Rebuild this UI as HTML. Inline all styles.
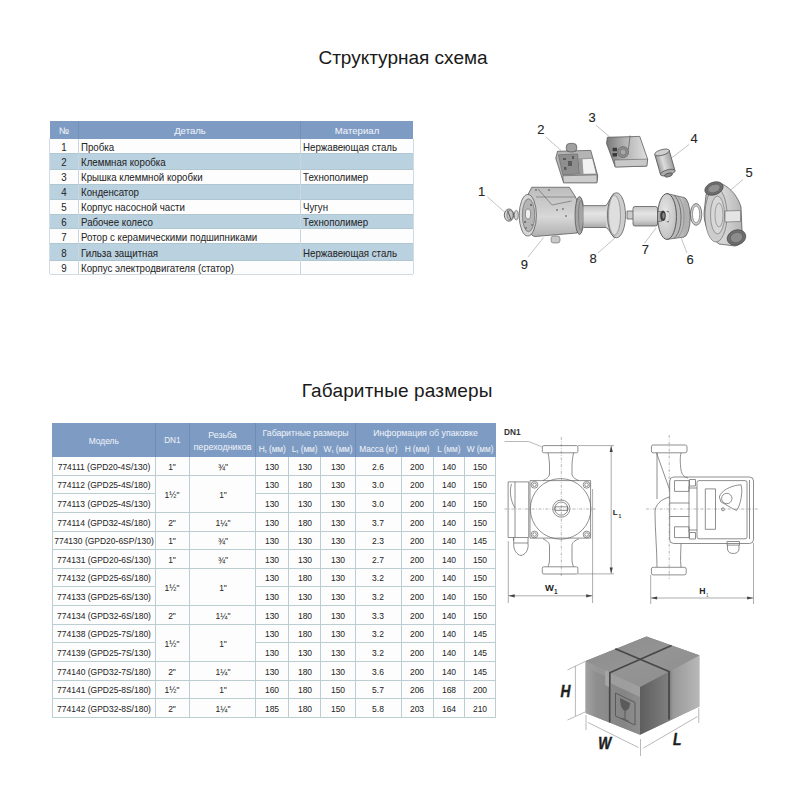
<!DOCTYPE html>
<html><head><meta charset="utf-8">
<style>
html,body{margin:0;padding:0;background:#fff;}
body{width:800px;height:800px;position:relative;overflow:hidden;font-family:"Liberation Sans",sans-serif;}
body div{-webkit-text-stroke:0.04px currentColor;}
sub{font-size:4px;vertical-align:baseline;position:relative;top:1px;}
svg{position:absolute;left:0;top:0;}
</style></head><body>
<div style="position:absolute;left:203.00px;top:47.90px;width:400px;text-align:center;font-size:19px;line-height:19px;color:#1a1a1a;letter-spacing:0px;white-space:nowrap;">Структурная схема</div>
<div style="position:absolute;left:197.20px;top:380.60px;width:400px;text-align:center;font-size:19px;line-height:19px;color:#1a1a1a;letter-spacing:0.15px;white-space:nowrap;">Габаритные размеры</div>
<div style="position:absolute;left:49.5px;top:121px;width:363.5px;height:17.5px;background:#7d9bc3"></div>
<div style="position:absolute;left:49.5px;top:138.5px;width:363.5px;height:15.300000000000011px;background:#fdfdfd"></div>
<div style="position:absolute;left:49.5px;top:153.8px;width:363.5px;height:15.799999999999983px;background:#bad1e0"></div>
<div style="position:absolute;left:49.5px;top:169.6px;width:363.5px;height:14.400000000000006px;background:#fdfdfd"></div>
<div style="position:absolute;left:49.5px;top:184px;width:363.5px;height:15.800000000000011px;background:#bad1e0"></div>
<div style="position:absolute;left:49.5px;top:199.8px;width:363.5px;height:14.299999999999983px;background:#fdfdfd"></div>
<div style="position:absolute;left:49.5px;top:214.1px;width:363.5px;height:14.700000000000017px;background:#bad1e0"></div>
<div style="position:absolute;left:49.5px;top:228.8px;width:363.5px;height:14.549999999999983px;background:#fdfdfd"></div>
<div style="position:absolute;left:49.5px;top:243.35px;width:363.5px;height:17.049999999999983px;background:#bad1e0"></div>
<div style="position:absolute;left:49.5px;top:260.4px;width:363.5px;height:13.800000000000011px;background:#fdfdfd"></div>
<div style="position:absolute;left:-136.25px;top:141.86px;width:400px;text-align:center;font-size:10.5px;line-height:10.5px;color:#262626;letter-spacing:0px;white-space:nowrap;transform:scaleX(0.9240);transform-origin:50% 0;">1</div>
<div style="position:absolute;left:81.40px;top:141.86px;font-size:10.5px;line-height:10.5px;color:#262626;letter-spacing:0px;white-space:nowrap;transform:scaleX(0.9240);transform-origin:0 0;">Пробка</div>
<div style="position:absolute;left:302.70px;top:141.86px;font-size:10.5px;line-height:10.5px;color:#262626;letter-spacing:0px;white-space:nowrap;transform:scaleX(0.9240);transform-origin:0 0;">Нержавеющая сталь</div>
<div style="position:absolute;left:-136.25px;top:157.11px;width:400px;text-align:center;font-size:10.5px;line-height:10.5px;color:#262626;letter-spacing:0px;white-space:nowrap;transform:scaleX(0.9240);transform-origin:50% 0;">2</div>
<div style="position:absolute;left:81.40px;top:157.11px;font-size:10.5px;line-height:10.5px;color:#262626;letter-spacing:0px;white-space:nowrap;transform:scaleX(0.9240);transform-origin:0 0;">Клеммная коробка</div>
<div style="position:absolute;left:-136.25px;top:172.01px;width:400px;text-align:center;font-size:10.5px;line-height:10.5px;color:#262626;letter-spacing:0px;white-space:nowrap;transform:scaleX(0.9240);transform-origin:50% 0;">3</div>
<div style="position:absolute;left:81.40px;top:172.01px;font-size:10.5px;line-height:10.5px;color:#262626;letter-spacing:0px;white-space:nowrap;transform:scaleX(0.9240);transform-origin:0 0;">Крышка клеммной коробки</div>
<div style="position:absolute;left:302.70px;top:172.01px;font-size:10.5px;line-height:10.5px;color:#262626;letter-spacing:0px;white-space:nowrap;transform:scaleX(0.9240);transform-origin:0 0;">Технополимер</div>
<div style="position:absolute;left:-136.25px;top:187.36px;width:400px;text-align:center;font-size:10.5px;line-height:10.5px;color:#262626;letter-spacing:0px;white-space:nowrap;transform:scaleX(0.9240);transform-origin:50% 0;">4</div>
<div style="position:absolute;left:81.40px;top:187.36px;font-size:10.5px;line-height:10.5px;color:#262626;letter-spacing:0px;white-space:nowrap;transform:scaleX(0.9240);transform-origin:0 0;">Конденсатор</div>
<div style="position:absolute;left:-136.25px;top:202.11px;width:400px;text-align:center;font-size:10.5px;line-height:10.5px;color:#262626;letter-spacing:0px;white-space:nowrap;transform:scaleX(0.9240);transform-origin:50% 0;">5</div>
<div style="position:absolute;left:81.40px;top:202.11px;font-size:10.5px;line-height:10.5px;color:#262626;letter-spacing:0px;white-space:nowrap;transform:scaleX(0.9240);transform-origin:0 0;">Корпус насосной части</div>
<div style="position:absolute;left:302.70px;top:202.11px;font-size:10.5px;line-height:10.5px;color:#262626;letter-spacing:0px;white-space:nowrap;transform:scaleX(0.9240);transform-origin:0 0;">Чугун</div>
<div style="position:absolute;left:-136.25px;top:217.46px;width:400px;text-align:center;font-size:10.5px;line-height:10.5px;color:#262626;letter-spacing:0px;white-space:nowrap;transform:scaleX(0.9240);transform-origin:50% 0;">6</div>
<div style="position:absolute;left:81.40px;top:217.46px;font-size:10.5px;line-height:10.5px;color:#262626;letter-spacing:0px;white-space:nowrap;transform:scaleX(0.9240);transform-origin:0 0;">Рабочее колесо</div>
<div style="position:absolute;left:302.70px;top:217.46px;font-size:10.5px;line-height:10.5px;color:#262626;letter-spacing:0px;white-space:nowrap;transform:scaleX(0.9240);transform-origin:0 0;">Технополимер</div>
<div style="position:absolute;left:-136.25px;top:231.51px;width:400px;text-align:center;font-size:10.5px;line-height:10.5px;color:#262626;letter-spacing:0px;white-space:nowrap;transform:scaleX(0.9240);transform-origin:50% 0;">7</div>
<div style="position:absolute;left:81.40px;top:231.51px;font-size:10.5px;line-height:10.5px;color:#262626;letter-spacing:0px;white-space:nowrap;transform:scaleX(0.9240);transform-origin:0 0;">Ротор с керамическими подшипниками</div>
<div style="position:absolute;left:-136.25px;top:247.71px;width:400px;text-align:center;font-size:10.5px;line-height:10.5px;color:#262626;letter-spacing:0px;white-space:nowrap;transform:scaleX(0.9240);transform-origin:50% 0;">8</div>
<div style="position:absolute;left:81.40px;top:247.71px;font-size:10.5px;line-height:10.5px;color:#262626;letter-spacing:0px;white-space:nowrap;transform:scaleX(0.9240);transform-origin:0 0;">Гильза защитная</div>
<div style="position:absolute;left:302.70px;top:247.71px;font-size:10.5px;line-height:10.5px;color:#262626;letter-spacing:0px;white-space:nowrap;transform:scaleX(0.9240);transform-origin:0 0;">Нержавеющая сталь</div>
<div style="position:absolute;left:-136.25px;top:263.11px;width:400px;text-align:center;font-size:10.5px;line-height:10.5px;color:#262626;letter-spacing:0px;white-space:nowrap;transform:scaleX(0.9240);transform-origin:50% 0;">9</div>
<div style="position:absolute;left:81.40px;top:263.11px;font-size:10.5px;line-height:10.5px;color:#262626;letter-spacing:0px;white-space:nowrap;transform:scaleX(0.9240);transform-origin:0 0;">Корпус электродвигателя (статор)</div>
<div style="position:absolute;left:49.5px;top:153.3px;width:363.5px;height:1px;background:#b0c6d0"></div>
<div style="position:absolute;left:49.5px;top:169.1px;width:363.5px;height:1px;background:#b0c6d0"></div>
<div style="position:absolute;left:49.5px;top:183.5px;width:363.5px;height:1px;background:#b0c6d0"></div>
<div style="position:absolute;left:49.5px;top:199.3px;width:363.5px;height:1px;background:#b0c6d0"></div>
<div style="position:absolute;left:49.5px;top:213.6px;width:363.5px;height:1px;background:#b0c6d0"></div>
<div style="position:absolute;left:49.5px;top:228.3px;width:363.5px;height:1px;background:#b0c6d0"></div>
<div style="position:absolute;left:49.5px;top:242.85px;width:363.5px;height:1px;background:#b0c6d0"></div>
<div style="position:absolute;left:49.5px;top:259.9px;width:363.5px;height:1px;background:#b0c6d0"></div>
<div style="position:absolute;left:77.5px;top:138.5px;width:1px;height:135.89999999999998px;background:#c9d6e0"></div>
<div style="position:absolute;left:300.1px;top:138.5px;width:1px;height:135.89999999999998px;background:#c9d6e0"></div>
<div style="position:absolute;left:49.0px;top:138.5px;width:1px;height:135.89999999999998px;background:#d0dbe4"></div>
<div style="position:absolute;left:412.5px;top:138.5px;width:1px;height:135.89999999999998px;background:#d0dbe4"></div>
<div style="position:absolute;left:49.5px;top:274px;width:363.5px;height:1px;background:#d0dbe4"></div>
<div style="position:absolute;left:77.5px;top:121px;width:1px;height:17.5px;background:#7390b8"></div>
<div style="position:absolute;left:300.1px;top:121px;width:1px;height:17.5px;background:#7390b8"></div>
<div style="position:absolute;left:-136.00px;top:125.90px;width:400px;text-align:center;font-size:9.6px;line-height:9.6px;color:#f2f5fa;letter-spacing:0px;white-space:nowrap;">№</div>
<div style="position:absolute;left:-10.00px;top:125.90px;width:400px;text-align:center;font-size:9.6px;line-height:9.6px;color:#f2f5fa;letter-spacing:0px;white-space:nowrap;">Деталь</div>
<div style="position:absolute;left:157.00px;top:125.90px;width:400px;text-align:center;font-size:9.6px;line-height:9.6px;color:#f2f5fa;letter-spacing:0px;white-space:nowrap;">Материал</div>
<div style="position:absolute;left:52px;top:423.25px;width:443.5px;height:33.25px;background:#7d9bc3"></div>
<div style="position:absolute;left:52px;top:456.5px;width:443.5px;height:260.96000000000004px;background:#fdfdfd"></div>
<div style="position:absolute;left:52px;top:474.64px;width:443.5px;height:1px;background:#bccdd3"></div>
<div style="position:absolute;left:52px;top:493.28px;width:103.5px;height:1px;background:#bccdd3"></div>
<div style="position:absolute;left:255.75px;top:493.28px;width:239.75px;height:1px;background:#bccdd3"></div>
<div style="position:absolute;left:52px;top:511.91999999999996px;width:443.5px;height:1px;background:#bccdd3"></div>
<div style="position:absolute;left:52px;top:530.56px;width:443.5px;height:1px;background:#bccdd3"></div>
<div style="position:absolute;left:52px;top:549.2px;width:443.5px;height:1px;background:#bccdd3"></div>
<div style="position:absolute;left:52px;top:567.84px;width:443.5px;height:1px;background:#bccdd3"></div>
<div style="position:absolute;left:52px;top:586.48px;width:103.5px;height:1px;background:#bccdd3"></div>
<div style="position:absolute;left:255.75px;top:586.48px;width:239.75px;height:1px;background:#bccdd3"></div>
<div style="position:absolute;left:52px;top:605.12px;width:443.5px;height:1px;background:#bccdd3"></div>
<div style="position:absolute;left:52px;top:623.76px;width:443.5px;height:1px;background:#bccdd3"></div>
<div style="position:absolute;left:52px;top:642.4px;width:103.5px;height:1px;background:#bccdd3"></div>
<div style="position:absolute;left:255.75px;top:642.4px;width:239.75px;height:1px;background:#bccdd3"></div>
<div style="position:absolute;left:52px;top:661.04px;width:443.5px;height:1px;background:#bccdd3"></div>
<div style="position:absolute;left:52px;top:679.6800000000001px;width:443.5px;height:1px;background:#bccdd3"></div>
<div style="position:absolute;left:52px;top:698.3199999999999px;width:443.5px;height:1px;background:#bccdd3"></div>
<div style="position:absolute;left:52px;top:716.96px;width:443.5px;height:1px;background:#bccdd3"></div>
<div style="position:absolute;left:51.5px;top:456.5px;width:1px;height:260.96000000000004px;background:#bccdd3"></div>
<div style="position:absolute;left:155.0px;top:456.5px;width:1px;height:260.96000000000004px;background:#bccdd3"></div>
<div style="position:absolute;left:188.75px;top:456.5px;width:1px;height:260.96000000000004px;background:#bccdd3"></div>
<div style="position:absolute;left:255.25px;top:456.5px;width:1px;height:260.96000000000004px;background:#bccdd3"></div>
<div style="position:absolute;left:288.2px;top:456.5px;width:1px;height:260.96000000000004px;background:#bccdd3"></div>
<div style="position:absolute;left:320.0px;top:456.5px;width:1px;height:260.96000000000004px;background:#bccdd3"></div>
<div style="position:absolute;left:355.0px;top:456.5px;width:1px;height:260.96000000000004px;background:#bccdd3"></div>
<div style="position:absolute;left:400.75px;top:456.5px;width:1px;height:260.96000000000004px;background:#bccdd3"></div>
<div style="position:absolute;left:432.5px;top:456.5px;width:1px;height:260.96000000000004px;background:#bccdd3"></div>
<div style="position:absolute;left:464.0px;top:456.5px;width:1px;height:260.96000000000004px;background:#bccdd3"></div>
<div style="position:absolute;left:495.0px;top:456.5px;width:1px;height:260.96000000000004px;background:#bccdd3"></div>
<div style="position:absolute;left:155.0px;top:423.25px;width:1px;height:33.25px;background:#6f8cb4"></div>
<div style="position:absolute;left:188.75px;top:423.25px;width:1px;height:33.25px;background:#6f8cb4"></div>
<div style="position:absolute;left:255.25px;top:423.25px;width:1px;height:33.25px;background:#6f8cb4"></div>
<div style="position:absolute;left:355.0px;top:423.25px;width:1px;height:33.25px;background:#6f8cb4"></div>
<div style="position:absolute;left:-95.75px;top:462.61px;width:400px;text-align:center;font-size:9.2px;line-height:9.2px;color:#262626;letter-spacing:0px;white-space:nowrap;transform:scaleX(0.9240);transform-origin:50% 0;">774111 (GPD20-4S/130)</div>
<div style="position:absolute;left:-27.62px;top:462.61px;width:400px;text-align:center;font-size:9.2px;line-height:9.2px;color:#262626;letter-spacing:0px;white-space:nowrap;transform:scaleX(0.9240);transform-origin:50% 0;">1"</div>
<div style="position:absolute;left:22.50px;top:462.61px;width:400px;text-align:center;font-size:9.2px;line-height:9.2px;color:#262626;letter-spacing:0px;white-space:nowrap;transform:scaleX(0.9240);transform-origin:50% 0;">¾"</div>
<div style="position:absolute;left:72.23px;top:462.61px;width:400px;text-align:center;font-size:9.2px;line-height:9.2px;color:#262626;letter-spacing:0px;white-space:nowrap;transform:scaleX(0.9240);transform-origin:50% 0;">130</div>
<div style="position:absolute;left:104.60px;top:462.61px;width:400px;text-align:center;font-size:9.2px;line-height:9.2px;color:#262626;letter-spacing:0px;white-space:nowrap;transform:scaleX(0.9240);transform-origin:50% 0;">130</div>
<div style="position:absolute;left:138.00px;top:462.61px;width:400px;text-align:center;font-size:9.2px;line-height:9.2px;color:#262626;letter-spacing:0px;white-space:nowrap;transform:scaleX(0.9240);transform-origin:50% 0;">130</div>
<div style="position:absolute;left:178.38px;top:462.61px;width:400px;text-align:center;font-size:9.2px;line-height:9.2px;color:#262626;letter-spacing:0px;white-space:nowrap;transform:scaleX(0.9240);transform-origin:50% 0;">2.6</div>
<div style="position:absolute;left:217.12px;top:462.61px;width:400px;text-align:center;font-size:9.2px;line-height:9.2px;color:#262626;letter-spacing:0px;white-space:nowrap;transform:scaleX(0.9240);transform-origin:50% 0;">200</div>
<div style="position:absolute;left:248.75px;top:462.61px;width:400px;text-align:center;font-size:9.2px;line-height:9.2px;color:#262626;letter-spacing:0px;white-space:nowrap;transform:scaleX(0.9240);transform-origin:50% 0;">140</div>
<div style="position:absolute;left:280.00px;top:462.61px;width:400px;text-align:center;font-size:9.2px;line-height:9.2px;color:#262626;letter-spacing:0px;white-space:nowrap;transform:scaleX(0.9240);transform-origin:50% 0;">150</div>
<div style="position:absolute;left:-95.75px;top:481.25px;width:400px;text-align:center;font-size:9.2px;line-height:9.2px;color:#262626;letter-spacing:0px;white-space:nowrap;transform:scaleX(0.9240);transform-origin:50% 0;">774112 (GPD25-4S/180)</div>
<div style="position:absolute;left:-27.62px;top:490.57px;width:400px;text-align:center;font-size:9.2px;line-height:9.2px;color:#262626;letter-spacing:0px;white-space:nowrap;transform:scaleX(0.9240);transform-origin:50% 0;">1½"</div>
<div style="position:absolute;left:22.50px;top:490.57px;width:400px;text-align:center;font-size:9.2px;line-height:9.2px;color:#262626;letter-spacing:0px;white-space:nowrap;transform:scaleX(0.9240);transform-origin:50% 0;">1"</div>
<div style="position:absolute;left:72.23px;top:481.25px;width:400px;text-align:center;font-size:9.2px;line-height:9.2px;color:#262626;letter-spacing:0px;white-space:nowrap;transform:scaleX(0.9240);transform-origin:50% 0;">130</div>
<div style="position:absolute;left:104.60px;top:481.25px;width:400px;text-align:center;font-size:9.2px;line-height:9.2px;color:#262626;letter-spacing:0px;white-space:nowrap;transform:scaleX(0.9240);transform-origin:50% 0;">180</div>
<div style="position:absolute;left:138.00px;top:481.25px;width:400px;text-align:center;font-size:9.2px;line-height:9.2px;color:#262626;letter-spacing:0px;white-space:nowrap;transform:scaleX(0.9240);transform-origin:50% 0;">130</div>
<div style="position:absolute;left:178.38px;top:481.25px;width:400px;text-align:center;font-size:9.2px;line-height:9.2px;color:#262626;letter-spacing:0px;white-space:nowrap;transform:scaleX(0.9240);transform-origin:50% 0;">3.0</div>
<div style="position:absolute;left:217.12px;top:481.25px;width:400px;text-align:center;font-size:9.2px;line-height:9.2px;color:#262626;letter-spacing:0px;white-space:nowrap;transform:scaleX(0.9240);transform-origin:50% 0;">200</div>
<div style="position:absolute;left:248.75px;top:481.25px;width:400px;text-align:center;font-size:9.2px;line-height:9.2px;color:#262626;letter-spacing:0px;white-space:nowrap;transform:scaleX(0.9240);transform-origin:50% 0;">140</div>
<div style="position:absolute;left:280.00px;top:481.25px;width:400px;text-align:center;font-size:9.2px;line-height:9.2px;color:#262626;letter-spacing:0px;white-space:nowrap;transform:scaleX(0.9240);transform-origin:50% 0;">150</div>
<div style="position:absolute;left:-95.75px;top:499.89px;width:400px;text-align:center;font-size:9.2px;line-height:9.2px;color:#262626;letter-spacing:0px;white-space:nowrap;transform:scaleX(0.9240);transform-origin:50% 0;">774113 (GPD25-4S/130)</div>
<div style="position:absolute;left:72.23px;top:499.89px;width:400px;text-align:center;font-size:9.2px;line-height:9.2px;color:#262626;letter-spacing:0px;white-space:nowrap;transform:scaleX(0.9240);transform-origin:50% 0;">130</div>
<div style="position:absolute;left:104.60px;top:499.89px;width:400px;text-align:center;font-size:9.2px;line-height:9.2px;color:#262626;letter-spacing:0px;white-space:nowrap;transform:scaleX(0.9240);transform-origin:50% 0;">130</div>
<div style="position:absolute;left:138.00px;top:499.89px;width:400px;text-align:center;font-size:9.2px;line-height:9.2px;color:#262626;letter-spacing:0px;white-space:nowrap;transform:scaleX(0.9240);transform-origin:50% 0;">130</div>
<div style="position:absolute;left:178.38px;top:499.89px;width:400px;text-align:center;font-size:9.2px;line-height:9.2px;color:#262626;letter-spacing:0px;white-space:nowrap;transform:scaleX(0.9240);transform-origin:50% 0;">3.0</div>
<div style="position:absolute;left:217.12px;top:499.89px;width:400px;text-align:center;font-size:9.2px;line-height:9.2px;color:#262626;letter-spacing:0px;white-space:nowrap;transform:scaleX(0.9240);transform-origin:50% 0;">200</div>
<div style="position:absolute;left:248.75px;top:499.89px;width:400px;text-align:center;font-size:9.2px;line-height:9.2px;color:#262626;letter-spacing:0px;white-space:nowrap;transform:scaleX(0.9240);transform-origin:50% 0;">140</div>
<div style="position:absolute;left:280.00px;top:499.89px;width:400px;text-align:center;font-size:9.2px;line-height:9.2px;color:#262626;letter-spacing:0px;white-space:nowrap;transform:scaleX(0.9240);transform-origin:50% 0;">150</div>
<div style="position:absolute;left:-95.75px;top:518.53px;width:400px;text-align:center;font-size:9.2px;line-height:9.2px;color:#262626;letter-spacing:0px;white-space:nowrap;transform:scaleX(0.9240);transform-origin:50% 0;">774114 (GPD32-4S/180)</div>
<div style="position:absolute;left:-27.62px;top:518.53px;width:400px;text-align:center;font-size:9.2px;line-height:9.2px;color:#262626;letter-spacing:0px;white-space:nowrap;transform:scaleX(0.9240);transform-origin:50% 0;">2"</div>
<div style="position:absolute;left:22.50px;top:518.53px;width:400px;text-align:center;font-size:9.2px;line-height:9.2px;color:#262626;letter-spacing:0px;white-space:nowrap;transform:scaleX(0.9240);transform-origin:50% 0;">1¼"</div>
<div style="position:absolute;left:72.23px;top:518.53px;width:400px;text-align:center;font-size:9.2px;line-height:9.2px;color:#262626;letter-spacing:0px;white-space:nowrap;transform:scaleX(0.9240);transform-origin:50% 0;">130</div>
<div style="position:absolute;left:104.60px;top:518.53px;width:400px;text-align:center;font-size:9.2px;line-height:9.2px;color:#262626;letter-spacing:0px;white-space:nowrap;transform:scaleX(0.9240);transform-origin:50% 0;">180</div>
<div style="position:absolute;left:138.00px;top:518.53px;width:400px;text-align:center;font-size:9.2px;line-height:9.2px;color:#262626;letter-spacing:0px;white-space:nowrap;transform:scaleX(0.9240);transform-origin:50% 0;">130</div>
<div style="position:absolute;left:178.38px;top:518.53px;width:400px;text-align:center;font-size:9.2px;line-height:9.2px;color:#262626;letter-spacing:0px;white-space:nowrap;transform:scaleX(0.9240);transform-origin:50% 0;">3.7</div>
<div style="position:absolute;left:217.12px;top:518.53px;width:400px;text-align:center;font-size:9.2px;line-height:9.2px;color:#262626;letter-spacing:0px;white-space:nowrap;transform:scaleX(0.9240);transform-origin:50% 0;">200</div>
<div style="position:absolute;left:248.75px;top:518.53px;width:400px;text-align:center;font-size:9.2px;line-height:9.2px;color:#262626;letter-spacing:0px;white-space:nowrap;transform:scaleX(0.9240);transform-origin:50% 0;">140</div>
<div style="position:absolute;left:280.00px;top:518.53px;width:400px;text-align:center;font-size:9.2px;line-height:9.2px;color:#262626;letter-spacing:0px;white-space:nowrap;transform:scaleX(0.9240);transform-origin:50% 0;">150</div>
<div style="position:absolute;left:-95.75px;top:537.17px;width:400px;text-align:center;font-size:9.2px;line-height:9.2px;color:#262626;letter-spacing:0px;white-space:nowrap;transform:scaleX(0.9240);transform-origin:50% 0;">774130 (GPD20-6SP/130)</div>
<div style="position:absolute;left:-27.62px;top:537.17px;width:400px;text-align:center;font-size:9.2px;line-height:9.2px;color:#262626;letter-spacing:0px;white-space:nowrap;transform:scaleX(0.9240);transform-origin:50% 0;">1"</div>
<div style="position:absolute;left:22.50px;top:537.17px;width:400px;text-align:center;font-size:9.2px;line-height:9.2px;color:#262626;letter-spacing:0px;white-space:nowrap;transform:scaleX(0.9240);transform-origin:50% 0;">¾"</div>
<div style="position:absolute;left:72.23px;top:537.17px;width:400px;text-align:center;font-size:9.2px;line-height:9.2px;color:#262626;letter-spacing:0px;white-space:nowrap;transform:scaleX(0.9240);transform-origin:50% 0;">130</div>
<div style="position:absolute;left:104.60px;top:537.17px;width:400px;text-align:center;font-size:9.2px;line-height:9.2px;color:#262626;letter-spacing:0px;white-space:nowrap;transform:scaleX(0.9240);transform-origin:50% 0;">130</div>
<div style="position:absolute;left:138.00px;top:537.17px;width:400px;text-align:center;font-size:9.2px;line-height:9.2px;color:#262626;letter-spacing:0px;white-space:nowrap;transform:scaleX(0.9240);transform-origin:50% 0;">130</div>
<div style="position:absolute;left:178.38px;top:537.17px;width:400px;text-align:center;font-size:9.2px;line-height:9.2px;color:#262626;letter-spacing:0px;white-space:nowrap;transform:scaleX(0.9240);transform-origin:50% 0;">2.3</div>
<div style="position:absolute;left:217.12px;top:537.17px;width:400px;text-align:center;font-size:9.2px;line-height:9.2px;color:#262626;letter-spacing:0px;white-space:nowrap;transform:scaleX(0.9240);transform-origin:50% 0;">200</div>
<div style="position:absolute;left:248.75px;top:537.17px;width:400px;text-align:center;font-size:9.2px;line-height:9.2px;color:#262626;letter-spacing:0px;white-space:nowrap;transform:scaleX(0.9240);transform-origin:50% 0;">140</div>
<div style="position:absolute;left:280.00px;top:537.17px;width:400px;text-align:center;font-size:9.2px;line-height:9.2px;color:#262626;letter-spacing:0px;white-space:nowrap;transform:scaleX(0.9240);transform-origin:50% 0;">145</div>
<div style="position:absolute;left:-95.75px;top:555.81px;width:400px;text-align:center;font-size:9.2px;line-height:9.2px;color:#262626;letter-spacing:0px;white-space:nowrap;transform:scaleX(0.9240);transform-origin:50% 0;">774131 (GPD20-6S/130)</div>
<div style="position:absolute;left:-27.62px;top:555.81px;width:400px;text-align:center;font-size:9.2px;line-height:9.2px;color:#262626;letter-spacing:0px;white-space:nowrap;transform:scaleX(0.9240);transform-origin:50% 0;">1"</div>
<div style="position:absolute;left:22.50px;top:555.81px;width:400px;text-align:center;font-size:9.2px;line-height:9.2px;color:#262626;letter-spacing:0px;white-space:nowrap;transform:scaleX(0.9240);transform-origin:50% 0;">¾"</div>
<div style="position:absolute;left:72.23px;top:555.81px;width:400px;text-align:center;font-size:9.2px;line-height:9.2px;color:#262626;letter-spacing:0px;white-space:nowrap;transform:scaleX(0.9240);transform-origin:50% 0;">130</div>
<div style="position:absolute;left:104.60px;top:555.81px;width:400px;text-align:center;font-size:9.2px;line-height:9.2px;color:#262626;letter-spacing:0px;white-space:nowrap;transform:scaleX(0.9240);transform-origin:50% 0;">130</div>
<div style="position:absolute;left:138.00px;top:555.81px;width:400px;text-align:center;font-size:9.2px;line-height:9.2px;color:#262626;letter-spacing:0px;white-space:nowrap;transform:scaleX(0.9240);transform-origin:50% 0;">130</div>
<div style="position:absolute;left:178.38px;top:555.81px;width:400px;text-align:center;font-size:9.2px;line-height:9.2px;color:#262626;letter-spacing:0px;white-space:nowrap;transform:scaleX(0.9240);transform-origin:50% 0;">2.7</div>
<div style="position:absolute;left:217.12px;top:555.81px;width:400px;text-align:center;font-size:9.2px;line-height:9.2px;color:#262626;letter-spacing:0px;white-space:nowrap;transform:scaleX(0.9240);transform-origin:50% 0;">200</div>
<div style="position:absolute;left:248.75px;top:555.81px;width:400px;text-align:center;font-size:9.2px;line-height:9.2px;color:#262626;letter-spacing:0px;white-space:nowrap;transform:scaleX(0.9240);transform-origin:50% 0;">140</div>
<div style="position:absolute;left:280.00px;top:555.81px;width:400px;text-align:center;font-size:9.2px;line-height:9.2px;color:#262626;letter-spacing:0px;white-space:nowrap;transform:scaleX(0.9240);transform-origin:50% 0;">150</div>
<div style="position:absolute;left:-95.75px;top:574.45px;width:400px;text-align:center;font-size:9.2px;line-height:9.2px;color:#262626;letter-spacing:0px;white-space:nowrap;transform:scaleX(0.9240);transform-origin:50% 0;">774132 (GPD25-6S/180)</div>
<div style="position:absolute;left:-27.62px;top:583.77px;width:400px;text-align:center;font-size:9.2px;line-height:9.2px;color:#262626;letter-spacing:0px;white-space:nowrap;transform:scaleX(0.9240);transform-origin:50% 0;">1½"</div>
<div style="position:absolute;left:22.50px;top:583.77px;width:400px;text-align:center;font-size:9.2px;line-height:9.2px;color:#262626;letter-spacing:0px;white-space:nowrap;transform:scaleX(0.9240);transform-origin:50% 0;">1"</div>
<div style="position:absolute;left:72.23px;top:574.45px;width:400px;text-align:center;font-size:9.2px;line-height:9.2px;color:#262626;letter-spacing:0px;white-space:nowrap;transform:scaleX(0.9240);transform-origin:50% 0;">130</div>
<div style="position:absolute;left:104.60px;top:574.45px;width:400px;text-align:center;font-size:9.2px;line-height:9.2px;color:#262626;letter-spacing:0px;white-space:nowrap;transform:scaleX(0.9240);transform-origin:50% 0;">180</div>
<div style="position:absolute;left:138.00px;top:574.45px;width:400px;text-align:center;font-size:9.2px;line-height:9.2px;color:#262626;letter-spacing:0px;white-space:nowrap;transform:scaleX(0.9240);transform-origin:50% 0;">130</div>
<div style="position:absolute;left:178.38px;top:574.45px;width:400px;text-align:center;font-size:9.2px;line-height:9.2px;color:#262626;letter-spacing:0px;white-space:nowrap;transform:scaleX(0.9240);transform-origin:50% 0;">3.2</div>
<div style="position:absolute;left:217.12px;top:574.45px;width:400px;text-align:center;font-size:9.2px;line-height:9.2px;color:#262626;letter-spacing:0px;white-space:nowrap;transform:scaleX(0.9240);transform-origin:50% 0;">200</div>
<div style="position:absolute;left:248.75px;top:574.45px;width:400px;text-align:center;font-size:9.2px;line-height:9.2px;color:#262626;letter-spacing:0px;white-space:nowrap;transform:scaleX(0.9240);transform-origin:50% 0;">140</div>
<div style="position:absolute;left:280.00px;top:574.45px;width:400px;text-align:center;font-size:9.2px;line-height:9.2px;color:#262626;letter-spacing:0px;white-space:nowrap;transform:scaleX(0.9240);transform-origin:50% 0;">150</div>
<div style="position:absolute;left:-95.75px;top:593.09px;width:400px;text-align:center;font-size:9.2px;line-height:9.2px;color:#262626;letter-spacing:0px;white-space:nowrap;transform:scaleX(0.9240);transform-origin:50% 0;">774133 (GPD25-6S/130)</div>
<div style="position:absolute;left:72.23px;top:593.09px;width:400px;text-align:center;font-size:9.2px;line-height:9.2px;color:#262626;letter-spacing:0px;white-space:nowrap;transform:scaleX(0.9240);transform-origin:50% 0;">130</div>
<div style="position:absolute;left:104.60px;top:593.09px;width:400px;text-align:center;font-size:9.2px;line-height:9.2px;color:#262626;letter-spacing:0px;white-space:nowrap;transform:scaleX(0.9240);transform-origin:50% 0;">130</div>
<div style="position:absolute;left:138.00px;top:593.09px;width:400px;text-align:center;font-size:9.2px;line-height:9.2px;color:#262626;letter-spacing:0px;white-space:nowrap;transform:scaleX(0.9240);transform-origin:50% 0;">130</div>
<div style="position:absolute;left:178.38px;top:593.09px;width:400px;text-align:center;font-size:9.2px;line-height:9.2px;color:#262626;letter-spacing:0px;white-space:nowrap;transform:scaleX(0.9240);transform-origin:50% 0;">3.2</div>
<div style="position:absolute;left:217.12px;top:593.09px;width:400px;text-align:center;font-size:9.2px;line-height:9.2px;color:#262626;letter-spacing:0px;white-space:nowrap;transform:scaleX(0.9240);transform-origin:50% 0;">200</div>
<div style="position:absolute;left:248.75px;top:593.09px;width:400px;text-align:center;font-size:9.2px;line-height:9.2px;color:#262626;letter-spacing:0px;white-space:nowrap;transform:scaleX(0.9240);transform-origin:50% 0;">140</div>
<div style="position:absolute;left:280.00px;top:593.09px;width:400px;text-align:center;font-size:9.2px;line-height:9.2px;color:#262626;letter-spacing:0px;white-space:nowrap;transform:scaleX(0.9240);transform-origin:50% 0;">150</div>
<div style="position:absolute;left:-95.75px;top:611.73px;width:400px;text-align:center;font-size:9.2px;line-height:9.2px;color:#262626;letter-spacing:0px;white-space:nowrap;transform:scaleX(0.9240);transform-origin:50% 0;">774134 (GPD32-6S/180)</div>
<div style="position:absolute;left:-27.62px;top:611.73px;width:400px;text-align:center;font-size:9.2px;line-height:9.2px;color:#262626;letter-spacing:0px;white-space:nowrap;transform:scaleX(0.9240);transform-origin:50% 0;">2"</div>
<div style="position:absolute;left:22.50px;top:611.73px;width:400px;text-align:center;font-size:9.2px;line-height:9.2px;color:#262626;letter-spacing:0px;white-space:nowrap;transform:scaleX(0.9240);transform-origin:50% 0;">1¼"</div>
<div style="position:absolute;left:72.23px;top:611.73px;width:400px;text-align:center;font-size:9.2px;line-height:9.2px;color:#262626;letter-spacing:0px;white-space:nowrap;transform:scaleX(0.9240);transform-origin:50% 0;">130</div>
<div style="position:absolute;left:104.60px;top:611.73px;width:400px;text-align:center;font-size:9.2px;line-height:9.2px;color:#262626;letter-spacing:0px;white-space:nowrap;transform:scaleX(0.9240);transform-origin:50% 0;">180</div>
<div style="position:absolute;left:138.00px;top:611.73px;width:400px;text-align:center;font-size:9.2px;line-height:9.2px;color:#262626;letter-spacing:0px;white-space:nowrap;transform:scaleX(0.9240);transform-origin:50% 0;">130</div>
<div style="position:absolute;left:178.38px;top:611.73px;width:400px;text-align:center;font-size:9.2px;line-height:9.2px;color:#262626;letter-spacing:0px;white-space:nowrap;transform:scaleX(0.9240);transform-origin:50% 0;">3.3</div>
<div style="position:absolute;left:217.12px;top:611.73px;width:400px;text-align:center;font-size:9.2px;line-height:9.2px;color:#262626;letter-spacing:0px;white-space:nowrap;transform:scaleX(0.9240);transform-origin:50% 0;">200</div>
<div style="position:absolute;left:248.75px;top:611.73px;width:400px;text-align:center;font-size:9.2px;line-height:9.2px;color:#262626;letter-spacing:0px;white-space:nowrap;transform:scaleX(0.9240);transform-origin:50% 0;">140</div>
<div style="position:absolute;left:280.00px;top:611.73px;width:400px;text-align:center;font-size:9.2px;line-height:9.2px;color:#262626;letter-spacing:0px;white-space:nowrap;transform:scaleX(0.9240);transform-origin:50% 0;">150</div>
<div style="position:absolute;left:-95.75px;top:630.37px;width:400px;text-align:center;font-size:9.2px;line-height:9.2px;color:#262626;letter-spacing:0px;white-space:nowrap;transform:scaleX(0.9240);transform-origin:50% 0;">774138 (GPD25-7S/180)</div>
<div style="position:absolute;left:-27.62px;top:639.69px;width:400px;text-align:center;font-size:9.2px;line-height:9.2px;color:#262626;letter-spacing:0px;white-space:nowrap;transform:scaleX(0.9240);transform-origin:50% 0;">1½"</div>
<div style="position:absolute;left:22.50px;top:639.69px;width:400px;text-align:center;font-size:9.2px;line-height:9.2px;color:#262626;letter-spacing:0px;white-space:nowrap;transform:scaleX(0.9240);transform-origin:50% 0;">1"</div>
<div style="position:absolute;left:72.23px;top:630.37px;width:400px;text-align:center;font-size:9.2px;line-height:9.2px;color:#262626;letter-spacing:0px;white-space:nowrap;transform:scaleX(0.9240);transform-origin:50% 0;">130</div>
<div style="position:absolute;left:104.60px;top:630.37px;width:400px;text-align:center;font-size:9.2px;line-height:9.2px;color:#262626;letter-spacing:0px;white-space:nowrap;transform:scaleX(0.9240);transform-origin:50% 0;">180</div>
<div style="position:absolute;left:138.00px;top:630.37px;width:400px;text-align:center;font-size:9.2px;line-height:9.2px;color:#262626;letter-spacing:0px;white-space:nowrap;transform:scaleX(0.9240);transform-origin:50% 0;">130</div>
<div style="position:absolute;left:178.38px;top:630.37px;width:400px;text-align:center;font-size:9.2px;line-height:9.2px;color:#262626;letter-spacing:0px;white-space:nowrap;transform:scaleX(0.9240);transform-origin:50% 0;">3.2</div>
<div style="position:absolute;left:217.12px;top:630.37px;width:400px;text-align:center;font-size:9.2px;line-height:9.2px;color:#262626;letter-spacing:0px;white-space:nowrap;transform:scaleX(0.9240);transform-origin:50% 0;">200</div>
<div style="position:absolute;left:248.75px;top:630.37px;width:400px;text-align:center;font-size:9.2px;line-height:9.2px;color:#262626;letter-spacing:0px;white-space:nowrap;transform:scaleX(0.9240);transform-origin:50% 0;">140</div>
<div style="position:absolute;left:280.00px;top:630.37px;width:400px;text-align:center;font-size:9.2px;line-height:9.2px;color:#262626;letter-spacing:0px;white-space:nowrap;transform:scaleX(0.9240);transform-origin:50% 0;">145</div>
<div style="position:absolute;left:-95.75px;top:649.01px;width:400px;text-align:center;font-size:9.2px;line-height:9.2px;color:#262626;letter-spacing:0px;white-space:nowrap;transform:scaleX(0.9240);transform-origin:50% 0;">774139 (GPD25-7S/130)</div>
<div style="position:absolute;left:72.23px;top:649.01px;width:400px;text-align:center;font-size:9.2px;line-height:9.2px;color:#262626;letter-spacing:0px;white-space:nowrap;transform:scaleX(0.9240);transform-origin:50% 0;">130</div>
<div style="position:absolute;left:104.60px;top:649.01px;width:400px;text-align:center;font-size:9.2px;line-height:9.2px;color:#262626;letter-spacing:0px;white-space:nowrap;transform:scaleX(0.9240);transform-origin:50% 0;">130</div>
<div style="position:absolute;left:138.00px;top:649.01px;width:400px;text-align:center;font-size:9.2px;line-height:9.2px;color:#262626;letter-spacing:0px;white-space:nowrap;transform:scaleX(0.9240);transform-origin:50% 0;">130</div>
<div style="position:absolute;left:178.38px;top:649.01px;width:400px;text-align:center;font-size:9.2px;line-height:9.2px;color:#262626;letter-spacing:0px;white-space:nowrap;transform:scaleX(0.9240);transform-origin:50% 0;">3.2</div>
<div style="position:absolute;left:217.12px;top:649.01px;width:400px;text-align:center;font-size:9.2px;line-height:9.2px;color:#262626;letter-spacing:0px;white-space:nowrap;transform:scaleX(0.9240);transform-origin:50% 0;">200</div>
<div style="position:absolute;left:248.75px;top:649.01px;width:400px;text-align:center;font-size:9.2px;line-height:9.2px;color:#262626;letter-spacing:0px;white-space:nowrap;transform:scaleX(0.9240);transform-origin:50% 0;">140</div>
<div style="position:absolute;left:280.00px;top:649.01px;width:400px;text-align:center;font-size:9.2px;line-height:9.2px;color:#262626;letter-spacing:0px;white-space:nowrap;transform:scaleX(0.9240);transform-origin:50% 0;">145</div>
<div style="position:absolute;left:-95.75px;top:667.65px;width:400px;text-align:center;font-size:9.2px;line-height:9.2px;color:#262626;letter-spacing:0px;white-space:nowrap;transform:scaleX(0.9240);transform-origin:50% 0;">774140 (GPD32-7S/180)</div>
<div style="position:absolute;left:-27.62px;top:667.65px;width:400px;text-align:center;font-size:9.2px;line-height:9.2px;color:#262626;letter-spacing:0px;white-space:nowrap;transform:scaleX(0.9240);transform-origin:50% 0;">2"</div>
<div style="position:absolute;left:22.50px;top:667.65px;width:400px;text-align:center;font-size:9.2px;line-height:9.2px;color:#262626;letter-spacing:0px;white-space:nowrap;transform:scaleX(0.9240);transform-origin:50% 0;">1¼"</div>
<div style="position:absolute;left:72.23px;top:667.65px;width:400px;text-align:center;font-size:9.2px;line-height:9.2px;color:#262626;letter-spacing:0px;white-space:nowrap;transform:scaleX(0.9240);transform-origin:50% 0;">130</div>
<div style="position:absolute;left:104.60px;top:667.65px;width:400px;text-align:center;font-size:9.2px;line-height:9.2px;color:#262626;letter-spacing:0px;white-space:nowrap;transform:scaleX(0.9240);transform-origin:50% 0;">180</div>
<div style="position:absolute;left:138.00px;top:667.65px;width:400px;text-align:center;font-size:9.2px;line-height:9.2px;color:#262626;letter-spacing:0px;white-space:nowrap;transform:scaleX(0.9240);transform-origin:50% 0;">130</div>
<div style="position:absolute;left:178.38px;top:667.65px;width:400px;text-align:center;font-size:9.2px;line-height:9.2px;color:#262626;letter-spacing:0px;white-space:nowrap;transform:scaleX(0.9240);transform-origin:50% 0;">3.6</div>
<div style="position:absolute;left:217.12px;top:667.65px;width:400px;text-align:center;font-size:9.2px;line-height:9.2px;color:#262626;letter-spacing:0px;white-space:nowrap;transform:scaleX(0.9240);transform-origin:50% 0;">200</div>
<div style="position:absolute;left:248.75px;top:667.65px;width:400px;text-align:center;font-size:9.2px;line-height:9.2px;color:#262626;letter-spacing:0px;white-space:nowrap;transform:scaleX(0.9240);transform-origin:50% 0;">140</div>
<div style="position:absolute;left:280.00px;top:667.65px;width:400px;text-align:center;font-size:9.2px;line-height:9.2px;color:#262626;letter-spacing:0px;white-space:nowrap;transform:scaleX(0.9240);transform-origin:50% 0;">145</div>
<div style="position:absolute;left:-95.75px;top:686.29px;width:400px;text-align:center;font-size:9.2px;line-height:9.2px;color:#262626;letter-spacing:0px;white-space:nowrap;transform:scaleX(0.9240);transform-origin:50% 0;">774141 (GPD25-8S/180)</div>
<div style="position:absolute;left:-27.62px;top:686.29px;width:400px;text-align:center;font-size:9.2px;line-height:9.2px;color:#262626;letter-spacing:0px;white-space:nowrap;transform:scaleX(0.9240);transform-origin:50% 0;">1½"</div>
<div style="position:absolute;left:22.50px;top:686.29px;width:400px;text-align:center;font-size:9.2px;line-height:9.2px;color:#262626;letter-spacing:0px;white-space:nowrap;transform:scaleX(0.9240);transform-origin:50% 0;">1"</div>
<div style="position:absolute;left:72.23px;top:686.29px;width:400px;text-align:center;font-size:9.2px;line-height:9.2px;color:#262626;letter-spacing:0px;white-space:nowrap;transform:scaleX(0.9240);transform-origin:50% 0;">160</div>
<div style="position:absolute;left:104.60px;top:686.29px;width:400px;text-align:center;font-size:9.2px;line-height:9.2px;color:#262626;letter-spacing:0px;white-space:nowrap;transform:scaleX(0.9240);transform-origin:50% 0;">180</div>
<div style="position:absolute;left:138.00px;top:686.29px;width:400px;text-align:center;font-size:9.2px;line-height:9.2px;color:#262626;letter-spacing:0px;white-space:nowrap;transform:scaleX(0.9240);transform-origin:50% 0;">150</div>
<div style="position:absolute;left:178.38px;top:686.29px;width:400px;text-align:center;font-size:9.2px;line-height:9.2px;color:#262626;letter-spacing:0px;white-space:nowrap;transform:scaleX(0.9240);transform-origin:50% 0;">5.7</div>
<div style="position:absolute;left:217.12px;top:686.29px;width:400px;text-align:center;font-size:9.2px;line-height:9.2px;color:#262626;letter-spacing:0px;white-space:nowrap;transform:scaleX(0.9240);transform-origin:50% 0;">206</div>
<div style="position:absolute;left:248.75px;top:686.29px;width:400px;text-align:center;font-size:9.2px;line-height:9.2px;color:#262626;letter-spacing:0px;white-space:nowrap;transform:scaleX(0.9240);transform-origin:50% 0;">168</div>
<div style="position:absolute;left:280.00px;top:686.29px;width:400px;text-align:center;font-size:9.2px;line-height:9.2px;color:#262626;letter-spacing:0px;white-space:nowrap;transform:scaleX(0.9240);transform-origin:50% 0;">200</div>
<div style="position:absolute;left:-95.75px;top:704.93px;width:400px;text-align:center;font-size:9.2px;line-height:9.2px;color:#262626;letter-spacing:0px;white-space:nowrap;transform:scaleX(0.9240);transform-origin:50% 0;">774142 (GPD32-8S/180)</div>
<div style="position:absolute;left:-27.62px;top:704.93px;width:400px;text-align:center;font-size:9.2px;line-height:9.2px;color:#262626;letter-spacing:0px;white-space:nowrap;transform:scaleX(0.9240);transform-origin:50% 0;">2"</div>
<div style="position:absolute;left:22.50px;top:704.93px;width:400px;text-align:center;font-size:9.2px;line-height:9.2px;color:#262626;letter-spacing:0px;white-space:nowrap;transform:scaleX(0.9240);transform-origin:50% 0;">1¼"</div>
<div style="position:absolute;left:72.23px;top:704.93px;width:400px;text-align:center;font-size:9.2px;line-height:9.2px;color:#262626;letter-spacing:0px;white-space:nowrap;transform:scaleX(0.9240);transform-origin:50% 0;">185</div>
<div style="position:absolute;left:104.60px;top:704.93px;width:400px;text-align:center;font-size:9.2px;line-height:9.2px;color:#262626;letter-spacing:0px;white-space:nowrap;transform:scaleX(0.9240);transform-origin:50% 0;">180</div>
<div style="position:absolute;left:138.00px;top:704.93px;width:400px;text-align:center;font-size:9.2px;line-height:9.2px;color:#262626;letter-spacing:0px;white-space:nowrap;transform:scaleX(0.9240);transform-origin:50% 0;">150</div>
<div style="position:absolute;left:178.38px;top:704.93px;width:400px;text-align:center;font-size:9.2px;line-height:9.2px;color:#262626;letter-spacing:0px;white-space:nowrap;transform:scaleX(0.9240);transform-origin:50% 0;">5.8</div>
<div style="position:absolute;left:217.12px;top:704.93px;width:400px;text-align:center;font-size:9.2px;line-height:9.2px;color:#262626;letter-spacing:0px;white-space:nowrap;transform:scaleX(0.9240);transform-origin:50% 0;">203</div>
<div style="position:absolute;left:248.75px;top:704.93px;width:400px;text-align:center;font-size:9.2px;line-height:9.2px;color:#262626;letter-spacing:0px;white-space:nowrap;transform:scaleX(0.9240);transform-origin:50% 0;">164</div>
<div style="position:absolute;left:280.00px;top:704.93px;width:400px;text-align:center;font-size:9.2px;line-height:9.2px;color:#262626;letter-spacing:0px;white-space:nowrap;transform:scaleX(0.9240);transform-origin:50% 0;">210</div>
<div style="position:absolute;left:-96.25px;top:437.20px;width:400px;text-align:center;font-size:8.4px;line-height:8.4px;color:#eef2f8;letter-spacing:0px;white-space:nowrap;">Модель</div>
<div style="position:absolute;left:-27.62px;top:437.20px;width:400px;text-align:center;font-size:8.2px;line-height:8.2px;color:#eef2f8;letter-spacing:0px;white-space:nowrap;">DN1</div>
<div style="position:absolute;left:22.50px;top:430.80px;width:400px;text-align:center;font-size:8.8px;line-height:8.8px;color:#eef2f8;letter-spacing:0px;white-space:nowrap;">Резьба</div>
<div style="position:absolute;left:22.50px;top:442.60px;width:400px;text-align:center;font-size:9.0px;line-height:9.0px;color:#eef2f8;letter-spacing:0px;white-space:nowrap;">переходников</div>
<div style="position:absolute;left:105.62px;top:429.00px;width:400px;text-align:center;font-size:8.7px;line-height:8.7px;color:#eef2f8;letter-spacing:0px;white-space:nowrap;">Габаритные размеры</div>
<div style="position:absolute;left:225.50px;top:429.00px;width:400px;text-align:center;font-size:8.75px;line-height:8.75px;color:#eef2f8;letter-spacing:0px;white-space:nowrap;">Информация об упаковке</div>
<div style="position:absolute;left:72.23px;top:445.00px;width:400px;text-align:center;font-size:8.4px;line-height:8.4px;color:#eef2f8;letter-spacing:-0.1px;white-space:nowrap;">H<sub>1</sub> (мм)</div>
<div style="position:absolute;left:104.60px;top:445.00px;width:400px;text-align:center;font-size:8.4px;line-height:8.4px;color:#eef2f8;letter-spacing:-0.1px;white-space:nowrap;">L<sub>1</sub> (мм)</div>
<div style="position:absolute;left:138.00px;top:445.00px;width:400px;text-align:center;font-size:8.4px;line-height:8.4px;color:#eef2f8;letter-spacing:-0.1px;white-space:nowrap;">W<sub>1</sub> (мм)</div>
<div style="position:absolute;left:178.38px;top:445.00px;width:400px;text-align:center;font-size:8.4px;line-height:8.4px;color:#eef2f8;letter-spacing:-0.1px;white-space:nowrap;">Масса (кг)</div>
<div style="position:absolute;left:217.12px;top:445.00px;width:400px;text-align:center;font-size:8.4px;line-height:8.4px;color:#eef2f8;letter-spacing:-0.1px;white-space:nowrap;">H (мм)</div>
<div style="position:absolute;left:248.75px;top:445.00px;width:400px;text-align:center;font-size:8.4px;line-height:8.4px;color:#eef2f8;letter-spacing:-0.1px;white-space:nowrap;">L (мм)</div>
<div style="position:absolute;left:280.00px;top:445.00px;width:400px;text-align:center;font-size:8.4px;line-height:8.4px;color:#eef2f8;letter-spacing:-0.1px;white-space:nowrap;">W (мм)</div>
<svg width="800" height="800" viewBox="0 0 800 800" style="position:absolute;left:0;top:0">
<defs>
<linearGradient id="cylV" x1="0" y1="0" x2="0" y2="1">
<stop offset="0" stop-color="#c4c4c4"/><stop offset="0.35" stop-color="#e4e4e4"/><stop offset="0.7" stop-color="#d2d2d2"/><stop offset="1" stop-color="#a8a8a8"/>
</linearGradient>
<linearGradient id="motV" x1="0" y1="0" x2="0" y2="1">
<stop offset="0" stop-color="#bdbdbd"/><stop offset="0.45" stop-color="#cfcfcf"/><stop offset="0.6" stop-color="#d8d8d8"/><stop offset="1" stop-color="#b0b0b0"/>
</linearGradient>
<linearGradient id="boxH" x1="0" y1="0" x2="1" y2="0">
<stop offset="0" stop-color="#8a8a8a"/><stop offset="0.5" stop-color="#b0b0b0"/><stop offset="1" stop-color="#d8d8d8"/>
</linearGradient>
<linearGradient id="lidH" x1="0" y1="0" x2="1" y2="0">
<stop offset="0" stop-color="#7a7a7a"/><stop offset="0.45" stop-color="#b4b4b4"/><stop offset="1" stop-color="#e0e0e0"/>
</linearGradient>
<linearGradient id="capG" x1="0" y1="0" x2="1" y2="0">
<stop offset="0" stop-color="#9a9a9a"/><stop offset="0.4" stop-color="#dcdcdc"/><stop offset="1" stop-color="#a0a0a0"/>
</linearGradient>
<radialGradient id="discG" cx="0.4" cy="0.4" r="0.7">
<stop offset="0" stop-color="#e6e6e6"/><stop offset="1" stop-color="#bdbdbd"/>
</radialGradient>
<linearGradient id="volG" x1="0" y1="0" x2="1" y2="0">
<stop offset="0" stop-color="#bfbfbf"/><stop offset="0.5" stop-color="#d6d6d6"/><stop offset="1" stop-color="#b5b5b5"/>
</linearGradient>
</defs>
<g stroke="#4a4a4a" stroke-width="0.7" stroke-linejoin="round">
<!-- leader lines -->
<g stroke="#9a9a9a" stroke-width="0.6" fill="none">
<line x1="487.4" y1="196.9" x2="504.9" y2="212.4"/>
<line x1="545.6" y1="136.8" x2="561" y2="150.4"/>
<line x1="596" y1="125.2" x2="609.5" y2="136.8"/>
<line x1="689" y1="144.6" x2="671.5" y2="158"/>
<line x1="743" y1="179.5" x2="729.7" y2="191"/>
<line x1="687" y1="253" x2="681" y2="237.6"/>
<line x1="644.4" y1="243.4" x2="656" y2="228"/>
<line x1="598" y1="253" x2="615.3" y2="237.6"/>
<line x1="528" y1="257" x2="543.6" y2="237.6"/>
</g>
<!-- part 2 terminal box -->
<polygon points="555.75,158.25 557.5,151.25 590.75,150.4 597.75,175.75 596.9,182.75 563.6,182.75" fill="#b4b4b4"/>
<polygon points="558.4,154.75 577.6,153.9 579.4,174 562.75,174.9" fill="#8e8e8e" stroke-width="0.4"/>
<g fill="#5a5a5a" stroke="none"><rect x="563" y="158" width="3" height="2"/><rect x="568" y="161" width="4" height="5"/><rect x="564" y="167" width="2.5" height="3"/><rect x="572" y="156" width="2" height="3"/></g>
<polygon points="578.5,159.1 592.5,158.25 596.35,174 579.9,174.35" fill="#f2f2f2" stroke-width="0.45"/>
<polygon points="578.5,159.1 582.5,159 583.5,174.2 579.9,174.35" fill="#9a9a9a" stroke="none"/>
<polygon points="562.75,175.75 597,174.9 596.9,182.75 563.6,182.75" fill="#cdcdcd" stroke-width="0.5"/>
<rect x="566.25" y="143.4" width="10.5" height="8.5" rx="3.5" fill="#a0a0a0"/>
<!-- part 3 lid -->
<polygon points="606.5,143.4 607.4,137.25 639.75,136.4 647.6,159.1 646.75,166.1 615.25,167" fill="url(#lidH)"/>
<polygon points="614.4,160 647.6,159.1 646.75,166.1 615.25,167" fill="#c9c9c9" stroke-width="0.5"/>
<circle cx="623.1" cy="152.1" r="5.5" fill="#8e8e8e" stroke-width="0.5"/>
<circle cx="623.1" cy="152.1" r="3" fill="#a8a8a8" stroke-width="0.4"/>
<rect x="612.6" y="147.75" width="4.4" height="3.5" fill="#3a3a3a" stroke="none"/>
<rect x="612.6" y="153" width="4.4" height="3.5" fill="#3a3a3a" stroke="none"/>
<line x1="630.1" y1="135.5" x2="628.4" y2="149.5" stroke-width="0.6"/>
<!-- part 4 capacitor -->
<g transform="rotate(-16 665 163)">
<rect x="657.5" y="152" width="15" height="21" fill="url(#capG)"/>
<ellipse cx="665" cy="152" rx="7.5" ry="2.8" fill="#d0d0d0"/>
<ellipse cx="665" cy="173" rx="7.5" ry="2.8" fill="#aaaaaa"/>
<ellipse cx="665" cy="175.5" rx="4" ry="1.8" fill="#8a8a8a"/>
</g>
<!-- part 1 plug -->
<ellipse cx="509" cy="215.1" rx="4.7" ry="6.1" fill="#d4d4d4" stroke-width="0.8"/>
<ellipse cx="510" cy="215.1" rx="3" ry="4.6" fill="#c4c4c4" stroke-width="0.5"/>
<line x1="507.5" y1="210.5" x2="511" y2="219.5" stroke-width="0.9"/>
<ellipse cx="516.3" cy="215.15" rx="2" ry="4.9" fill="#d6d6d6" stroke-width="0.6"/>
<!-- part 9 motor -->
<path d="M528,194.5 L531.75,187.25 L569.4,187.25 L575.5,197 C580,205 581,225 577,233 L535,236.5 C530,236 528,230 528,215 Z" fill="url(#motV)"/>
<ellipse cx="579.5" cy="215.5" rx="4.5" ry="19" fill="#a4a4a4"/>
<ellipse cx="581" cy="215.5" rx="2.5" ry="15" fill="none" stroke-width="0.4"/>
<ellipse cx="527.8" cy="215.25" rx="8.6" ry="20.8" fill="#d6d6d6"/>
<ellipse cx="528.5" cy="215.25" rx="6.2" ry="16.5" fill="#b4b4b4" stroke-width="0.5"/>
<ellipse cx="528" cy="214" rx="2.6" ry="5" fill="#f0f0f0" stroke-width="0.5"/>
<g fill="#555" stroke="none"><circle cx="525" cy="222" r="0.9"/><circle cx="531" cy="205" r="0.9"/><circle cx="526" cy="228" r="0.8"/><circle cx="532" cy="225" r="0.8"/></g>
<path d="M538,189 L552,205 L571.5,201" fill="none" stroke-width="0.5"/>
<line x1="536" y1="197" x2="575.5" y2="197" stroke-width="0.45"/>
<g fill="#444" stroke="none"><circle cx="536" cy="190" r="0.8"/><circle cx="549" cy="190" r="0.8"/><circle cx="557" cy="210" r="0.8"/><circle cx="563" cy="209" r="0.8"/><circle cx="566" cy="216" r="0.8"/></g>
<rect x="551" y="236" width="9" height="7" rx="2.5" fill="#c8c8c8" stroke-width="0.5"/>
<!-- part 8 sleeve -->
<path d="M583.4,205.6 L608,205.6 L608,227.5 L583.4,227.5 Z" fill="url(#cylV)" stroke="none"/>
<line x1="583.4" y1="205.6" x2="608" y2="205.6"/>
<line x1="583.4" y1="227.5" x2="608" y2="227.5"/>
<path d="M606,205.6 C609,202 611,196 614,193.5 L614,237.5 C611,234 609,229 606,227.5" fill="#d5d5d5"/>
<ellipse cx="616.5" cy="215.25" rx="9" ry="22.5" fill="#cdcdcd"/>
<ellipse cx="614.5" cy="215.25" rx="6" ry="20" fill="#dedede" stroke-width="0.4"/>
<!-- part 7 rotor -->
<rect x="627" y="211" width="7" height="8" fill="#ccc"/>
<rect x="633" y="206.5" width="24.5" height="19.5" rx="2" fill="url(#cylV)"/>

<!-- part 6 impeller -->
<ellipse cx="683.5" cy="217.25" rx="6.75" ry="19.9" fill="#b0b0b0"/>
<path d="M667,193.6 L683.5,197.35 L683.5,237.15 L667,239.4 Z" fill="#bababa" stroke="none"/>
<path d="M667,193.6 L683.5,197.35 M683.5,237.15 L667,239.4" fill="none" stroke-width="0.6"/>
<path d="M674,195 C679,200 681,209 681,217 C681,226 679,234 674,238.5" fill="none" stroke="#666" stroke-width="0.9"/>
<path d="M677.5,196 C682,201 684,209 684,217 C684,226 682,233 677.5,238" fill="none" stroke="#777" stroke-width="0.5"/>
<ellipse cx="667" cy="216.5" rx="9.4" ry="22.9" fill="url(#discG)" stroke-width="0.9"/>
<ellipse cx="667" cy="216.5" rx="3" ry="5.5" fill="none" stroke="#999" stroke-width="0.4"/>
<rect x="667.5" y="211" width="1.2" height="1.2" fill="#555" stroke="none"/>
<rect x="667.5" y="221" width="1.2" height="1.2" fill="#555" stroke="none"/>
<rect x="657.5" y="211.5" width="4" height="10" fill="#aaa" stroke-width="0.5"/>
<ellipse cx="663" cy="215.8" rx="2.8" ry="5.2" fill="#3c3c3c" stroke="none"/>
<ellipse cx="663.5" cy="215.8" rx="1.2" ry="3" fill="#888" stroke="none"/>
<!-- o-ring -->
<ellipse cx="696.1" cy="214.4" rx="5.7" ry="10.9" fill="#cfcfcf"/>
<ellipse cx="696.1" cy="214.4" rx="3.6" ry="8.4" fill="#fff" stroke-width="0.5"/>
<!-- part 5 volute -->
<path d="M706,195 C709,186 716,183 722,184 C731,188 738,197 741,207 L742,230 C744,239 741,245 735,246 L719,244 C710,237 704,226 704,213 Z" fill="url(#volG)"/>
<ellipse cx="716" cy="215" rx="11" ry="27" fill="#cdcdcd" stroke-width="0.5"/>
<ellipse cx="717.5" cy="215" rx="7" ry="19" fill="#d8d8d8" stroke-width="0.45"/>
<ellipse cx="719" cy="215" rx="4" ry="12" fill="none" stroke-width="0.4"/>
<g transform="rotate(-20 714 188.5)">
<ellipse cx="714" cy="188.5" rx="9.5" ry="6.3" fill="#6e6e6e"/>
<ellipse cx="714" cy="188.5" rx="6.3" ry="4" fill="#909090" stroke-width="0.4"/>
</g>
<g transform="rotate(-20 736.5 237.5)">
<ellipse cx="736.5" cy="237.5" rx="9.5" ry="7.5" fill="#6e6e6e"/>
<ellipse cx="736.5" cy="237.5" rx="6.3" ry="5" fill="#8c8c8c" stroke-width="0.4"/>
</g>
<path d="M725,211 L740.5,210.5 L740.5,221.5 L725,222 Z" fill="#e4e4e4" stroke-width="0.5"/>
</g>
<!-- labels -->
<g font-family="Liberation Sans" font-size="13" fill="#262626" stroke="#262626" stroke-width="0.12" text-anchor="middle">
<text x="481.6" y="195.65">1</text>
<text x="540.9" y="133.65">2</text>
<text x="592" y="122.05">3</text>
<text x="694" y="143.45">4</text>
<text x="749" y="177.15">5</text>
<text x="690" y="263.65">6</text>
<text x="645.3" y="254.45">7</text>
<text x="593" y="263.35">8</text>
<text x="524.3" y="269.35">9</text>
</g>
</svg>

<svg width="800" height="800" viewBox="0 0 800 800" style="position:absolute;left:0;top:0">
<g fill="none" stroke="#6a6a6a" stroke-width="0.75" stroke-linejoin="round">
<!-- ===== front view ===== -->
<!-- DN1 label -->
<text x="504" y="435.1" font-family="Liberation Sans" font-weight="bold" font-size="8.3" fill="#333" stroke="none">DN1</text>
<polyline points="504.5,441.5 528.5,441.5 541.5,446.6" stroke="#888" stroke-width="0.6"/>
<!-- top flange -->
<rect x="542.3" y="445.6" width="35.6" height="7.2" rx="1.5"/>
<!-- neck top -->
<path d="M548,452.8 C549,458 549.5,462 549.5,466 L549.5,474 C549.5,477 546,479 543,480.6"/>
<path d="M573.5,452.8 C572.5,458 572,462 572,466 L572,474 C572,477 575,479 579,480.6"/>
<!-- body square -->
<rect x="530" y="480.6" width="60.6" height="57.5"/>
<circle cx="560.6" cy="508.9" r="30.3"/>
<!-- bolts -->
<circle cx="534.5" cy="484.8" r="3.4"/><circle cx="534.5" cy="484.8" r="1.8"/>
<circle cx="586.6" cy="484.8" r="3.4"/><circle cx="586.6" cy="484.8" r="1.8"/>
<circle cx="534.5" cy="534.5" r="3.4"/><circle cx="534.5" cy="534.5" r="1.8"/>
<circle cx="586.6" cy="534.5" r="3.4"/><circle cx="586.6" cy="534.5" r="1.8"/>
<!-- center boss -->
<circle cx="561.3" cy="508.6" r="8.6"/>
<circle cx="561.3" cy="508.6" r="6.6"/>
<rect x="555" y="506.8" width="12.6" height="3.6"/>
<!-- neck bottom -->
<path d="M543,538.8 C546,540.5 549.5,542 549.5,546 L549.5,560 C549.5,563 548.5,565 548,566.8"/>
<path d="M579,538.8 C575,540.5 572,542 572,546 L572,560 C572,563 573,565 573.5,566.8"/>
<rect x="542.3" y="566.8" width="35.6" height="7.2" rx="1.5"/>
<!-- terminal box left -->
<rect x="508.1" y="481.9" width="20.65" height="55.6"/>
<line x1="515" y1="481.9" x2="515" y2="537.5"/>
<path d="M511.5,484 C509.5,490 510,500 515,508"/>
<line x1="513.5" y1="537.5" x2="513.5" y2="540.5"/>
<path d="M513.75,538 L513.75,543 L528,543 L528,538"/>
<path d="M513.75,543 C513,550 517,555 521,555.5 C525,555 529,550 528,543"/>
<!-- centerlines -->
<g stroke="#7a7a7a" stroke-width="0.55" stroke-dasharray="3,1.5,0.8,1.5">
<line x1="561.3" y1="437" x2="561.3" y2="577"/>
<line x1="504.5" y1="509" x2="595.5" y2="509"/>
</g>
<!-- L1 dimension -->
<g stroke="#666" stroke-width="0.55">
<line x1="578" y1="445.6" x2="614" y2="445.6"/>
<line x1="578" y1="573.9" x2="614" y2="573.9"/>
<line x1="611.2" y1="446" x2="611.2" y2="573.5"/>
<line x1="508.3" y1="541" x2="508.3" y2="603"/>
<line x1="592.6" y1="489" x2="592.6" y2="603"/>
<line x1="508.6" y1="595.8" x2="592.3" y2="595.8"/>
</g>
<g fill="#444" stroke="none">
<path d="M611.2,445.8 L609.6,452 L612.8,452 Z"/>
<path d="M611.2,573.7 L609.6,567.5 L612.8,567.5 Z"/>
<path d="M508.5,595.8 L514.7,594.2 L514.7,597.4 Z"/>
<path d="M592.4,595.8 L586.2,594.2 L586.2,597.4 Z"/>
</g>
<text x="612.8" y="514.7" font-family="Liberation Sans" font-weight="bold" font-size="8" fill="#222" stroke="none">L</text>
<text x="618.6" y="518" font-family="Liberation Sans" font-weight="bold" font-size="5" fill="#333" stroke="none">1</text>
<text x="545" y="591" font-family="Liberation Sans" font-weight="bold" font-size="9.4" fill="#222" stroke="none">W</text>
<text x="553.9" y="593.5" font-family="Liberation Sans" font-weight="bold" font-size="6.5" fill="#333" stroke="none">1</text>

<!-- ===== side view ===== -->
<rect x="651.4" y="445" width="35.6" height="7.8" rx="1.8"/>
<rect x="651.4" y="567.3" width="34.8" height="7.6" rx="1.8"/>
<!-- pump body outline -->
<path d="M656.5,452.8 L669.7,490"/>
<line x1="657" y1="452.8" x2="657" y2="499"/>
<path d="M681,452.8 C680,458 680,462 681,470 C682,475 684,477 688,478"/>
<path d="M669.7,497 C661,499 655,505 655,512 C655,530 657,550 657,567.3"/>
<path d="M681,543.5 C681,550 680,558 681,567.3"/>
<!-- motor housing -->
<rect x="669.7" y="477" width="83.8" height="66.5" rx="4"/>
<rect x="697" y="480.6" width="50" height="58.2" rx="2"/>
<line x1="749.5" y1="480" x2="749.5" y2="539"/>
<!-- fins left -->
<rect x="674.5" y="480.6" width="14.5" height="10.8"/>
<rect x="674.5" y="526.8" width="14.5" height="10.8"/>
<rect x="689.5" y="479.5" width="6" height="6.5"/>
<rect x="689.5" y="532.5" width="6" height="6.5"/>
<line x1="689" y1="486" x2="689" y2="532.5"/>
<line x1="669.7" y1="503" x2="689.3" y2="503"/>
<line x1="669.7" y1="516.5" x2="689.3" y2="516.5"/>
<line x1="689" y1="488" x2="697" y2="488"/>
<line x1="689" y1="530" x2="697" y2="530"/>
<!-- display -->
<rect x="705.3" y="488.9" width="10.2" height="40.4"/>
<!-- knob -->
<path d="M719.3,497 C721,490 733,485 741,484.8 C743,490 741,505 736.5,510.5 C731,508 727,505 721,502 Z"/>
<circle cx="726.8" cy="498.5" r="5.2"/>
<circle cx="723" cy="509.3" r="1.5"/>
<!-- cable gland -->
<rect x="727" y="541.5" width="12.5" height="3.6"/>
<path d="M727.5,545 L727.5,549 C727.5,555 739,555 739,549 L739,545"/>
<!-- centerlines -->
<g stroke="#7a7a7a" stroke-width="0.55" stroke-dasharray="3,1.5,0.8,1.5">
<line x1="669.2" y1="435" x2="669.2" y2="579"/>
<line x1="646" y1="509" x2="759" y2="509"/>
</g>
<!-- H1 dim -->
<g stroke="#666" stroke-width="0.55">
<line x1="650.7" y1="575" x2="650.7" y2="604"/>
<line x1="753.5" y1="543" x2="753.5" y2="604"/>
<line x1="651" y1="598" x2="753.2" y2="598"/>
</g>
<g fill="#444" stroke="none">
<path d="M650.9,598 L657.1,596.4 L657.1,599.6 Z"/>
<path d="M753.3,598 L747.1,596.4 L747.1,599.6 Z"/>
</g>
<text x="699.3" y="594.25" font-family="Liberation Sans" font-weight="bold" font-size="8.7" fill="#222" stroke="none">H</text>
<text x="706" y="597.3" font-family="Liberation Sans" font-weight="bold" font-size="4.5" fill="#888" stroke="none">1</text>
</g>
</svg>

<svg width="800" height="800" viewBox="0 0 800 800" style="position:absolute;left:0;top:0">
<defs>
<linearGradient id="bxTop" x1="0" y1="0" x2="1" y2="1">
<stop offset="0" stop-color="#8b8b8b"/><stop offset="0.5" stop-color="#949494"/><stop offset="1" stop-color="#8d8d8d"/>
</linearGradient>
<linearGradient id="bxLeft" x1="0" y1="0" x2="1" y2="0">
<stop offset="0" stop-color="#a2a2a2"/><stop offset="0.2" stop-color="#8e8e8e"/><stop offset="0.7" stop-color="#858585"/><stop offset="1" stop-color="#8e8e8e"/>
</linearGradient>
<linearGradient id="bxRight" x1="0" y1="0" x2="1" y2="0">
<stop offset="0" stop-color="#5e5e5e"/><stop offset="0.5" stop-color="#808080"/><stop offset="0.56" stop-color="#999"/><stop offset="1" stop-color="#b8b8b8"/>
</linearGradient>
</defs>
<!-- silhouette -->
<polygon points="585.6,660.9 646.5,636.5 699.3,655.2 699.3,706.4 640,734.8 585.6,712.9" fill="#8a8a8a"/>
<!-- faces -->
<polygon points="585.6,660.9 640,687 640,734.8 585.6,712.9" fill="url(#bxLeft)"/>
<polygon points="640,687 699.3,655.2 699.3,706.4 640,734.8" fill="url(#bxRight)"/>
<polygon points="585.6,660.9 646.5,636.5 699.3,655.2 640,687" fill="url(#bxTop)"/>
<!-- lighter top-front strip -->
<polygon points="611,673.2 640,687 640,697 611,683.5" fill="#a6a6a6" opacity="0.75"/>
<polygon points="587,661.6 605,670 605,676 587,668" fill="#9c9c9c" opacity="0.6"/>
<!-- tape -->
<g stroke="#474747" stroke-width="1.7" fill="none">
<polyline points="615.3,648.8 669,671.5 669,719.5"/>
<polyline points="671.5,645.5 609.7,672.8 609.7,722.5"/>
</g>
<polygon points="605.2,670 609,671.8 609,687 605.2,685" fill="#aaaaaa" opacity="0.85"/>
<!-- fragile sign -->
<polygon points="615.5,693 635,702.5 635,725 615.5,716" fill="none" stroke="#555" stroke-width="0.9"/>
<path d="M620,698 L630,703 C630,708 627,711 625,711 C622,710 620,705 620,698 Z" fill="#5a5a5a"/>
<line x1="625" y1="711" x2="625" y2="719" stroke="#555" stroke-width="0.9"/>
<line x1="621.5" y1="718" x2="628.5" y2="721" stroke="#555" stroke-width="0.9"/>
<!-- dims -->
<g stroke="#8a8a8a" stroke-width="0.6" fill="none">
<line x1="567.5" y1="670" x2="585" y2="661.5"/>
<line x1="567.5" y1="720" x2="585" y2="712"/>
<line x1="575.4" y1="666" x2="575.4" y2="716"/>
<line x1="586" y1="715" x2="586" y2="730"/>
<line x1="640.5" y1="739" x2="640.5" y2="756"/>
<line x1="698.75" y1="708" x2="698.75" y2="723"/>
<line x1="588" y1="722.5" x2="638.5" y2="747.5"/>
<line x1="643.5" y1="748" x2="697.5" y2="716.5"/>
</g>
<g font-family="Liberation Sans" font-weight="bold" font-style="italic" fill="#1e1e1e" stroke="#1e1e1e" stroke-width="0.45" font-size="16">
<text transform="translate(560.6 696.6) scale(0.86 1)">H</text>
<text transform="translate(598.2 748.7) scale(0.86 1)">W</text>
<text transform="translate(673 745) scale(0.86 1)">L</text>
</g>
</svg>

</body></html>
